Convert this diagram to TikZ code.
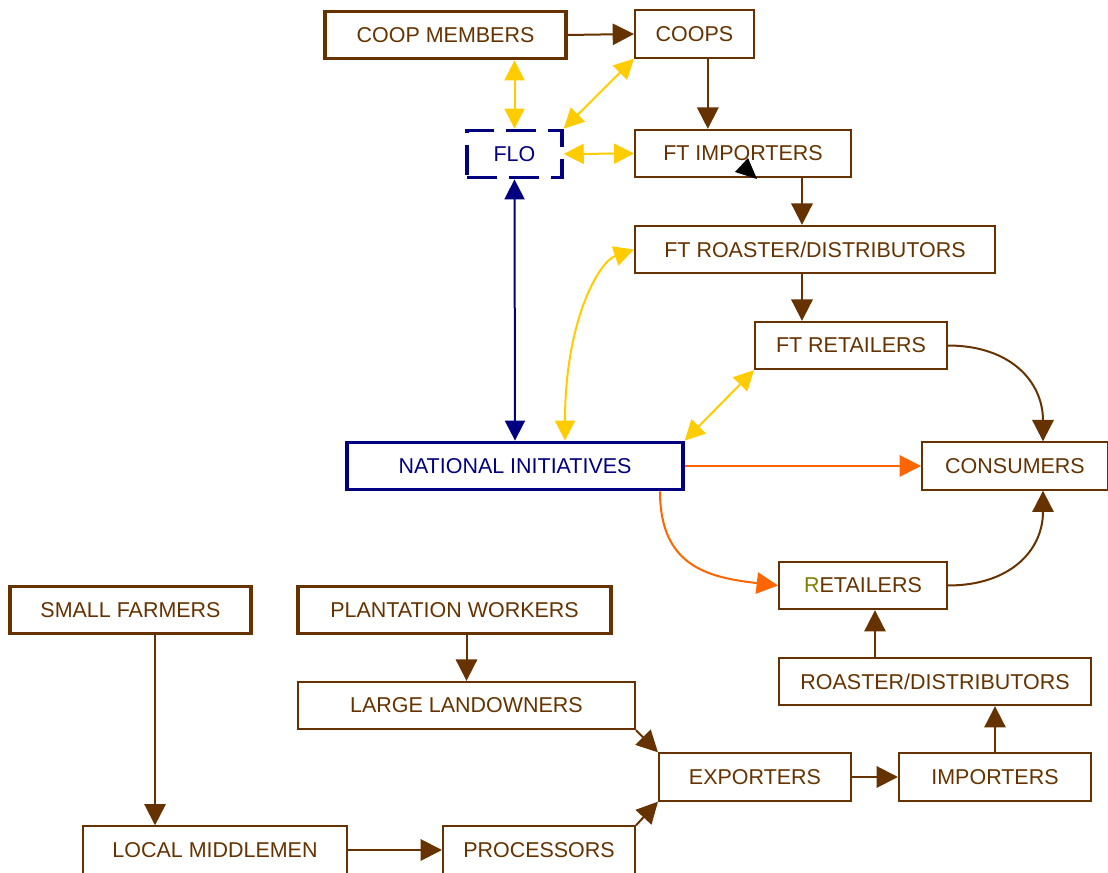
\documentclass[tikz,border=0pt]{standalone}
\usepackage{fontspec}
\setmainfont{Liberation Sans}
\usetikzlibrary{arrows.meta,calc}
\definecolor{brn}{HTML}{663300}
\definecolor{ylw}{HTML}{FFCC00}
\definecolor{nvy}{HTML}{000080}
\definecolor{org}{HTML}{FF6600}
\definecolor{olv}{HTML}{808000}
\tikzset{
  box/.style={draw=brn,text=brn,line width=1.5pt,rectangle,inner sep=0pt,
    font=\fontsize{16.1}{18}\selectfont,minimum height=35.5pt},
  thickbox/.style={box,line width=2.6pt},
  navybox/.style={box,draw=nvy,text=nvy,line width=2.6pt},
  tip/.style={-{Triangle[length=16pt,width=16pt]}},
  bitip/.style={{Triangle[length=15pt,width=15pt]}-{Triangle[length=15pt,width=15pt]}},
  flow/.style={tip,draw=brn,line width=1.5pt},
  fair/.style={bitip,draw=ylw,line width=1.5pt},
  nav/.style={bitip,draw=nvy,line width=1.5pt},
  ora/.style={tip,draw=org,line width=1.5pt},
}
\begin{document}
\begin{tikzpicture}[x=0.75pt,y=-0.75pt]
\useasboundingbox (0,0) rectangle (1108,873);
% nodes
\node[thickbox,minimum width=180.75pt] (coopm) at (445.5,35) {COOP MEMBERS};
\node[box,minimum width=89.25pt] (coops) at (694.5,34) {COOPS};
\node[navybox,dash pattern=on 22.5pt off 9pt,minimum width=71.25pt] (flo) at (514.5,154) {FLO};
\node[box,minimum width=162pt] (ftimp) at (743,153.5) {FT IMPORTERS};
\node[box,minimum width=270pt] (ftroast) at (815,249.5) {FT ROASTER/DISTRIBUTORS};
\node[box,minimum width=144pt] (ftret) at (851,345.5) {FT RETAILERS};
\node[navybox,minimum width=252pt] (ni) at (515,466) {NATIONAL INITIATIVES};
\node[box,minimum width=139.5pt] (cons) at (1015,466) {CONSUMERS};
\node[box,minimum width=126pt] (ret) at (863,585.5) {{\color{olv}R}ETAILERS};
\node[box,minimum width=234pt] (roast) at (935,681.5) {ROASTER/DISTRIBUTORS};
\node[thickbox,minimum width=180.75pt] (small) at (130.5,610) {SMALL FARMERS};
\node[thickbox,minimum width=234.75pt] (plant) at (454.5,610) {PLANTATION WORKERS};
\node[box,minimum width=252.75pt] (large) at (466.5,705.5) {LARGE LANDOWNERS};
\node[box,minimum width=144pt] (exp) at (755,777) {EXPORTERS};
\node[box,minimum width=144pt] (imp) at (995,777) {IMPORTERS};
\node[box,minimum width=198pt] (local) at (215,850) {LOCAL MIDDLEMEN};
\node[box,minimum width=144pt] (proc) at (539,850) {PROCESSORS};
% fair trade chain
\draw[flow] (coopm.east) -- (coops.west);
\draw[flow] ([xshift=10pt]coops.south) -- ([xshift=10pt]coops.south |- ftimp.north);
\draw[fair] (flo.north |- coopm.south) -- (flo.north);
\draw[fair] (coops.south west) -- (flo.north east);
\draw[fair] (flo.east) -- (ftimp.west);
\draw[nav] (flo.south) -- (ni.north);
\draw[flow] ([xshift=44.25pt]ftimp.south) -- ([xshift=44.25pt]ftimp.south |- ftroast.north);
\draw[flow] ([xshift=-9.75pt]ftroast.south) -- ([xshift=-9.75pt]ftroast.south |- ftret.north);
\draw[fair] (ftroast.west) .. controls +(-35,12) and +(0,-120) .. ([xshift=37.5pt]ni.north);
\draw[fair] (ftret.south west) -- (ni.north east);
\draw[flow] (ftret.east) .. controls +(62,0) and +(0,-60) .. ([xshift=21pt]cons.north);
\draw[ora] (ni.east) -- (cons.west);
\draw[ora] ([xshift=108.75pt]ni.south) .. controls +(0,75) and +(-70,-8) .. (ret.west);
\draw[flow] (ret.east) .. controls +(62,0) and +(0,60) .. ([xshift=21pt]cons.south);
% conventional chain
\draw[flow] ([xshift=9pt]ret.south |- roast.north) -- ([xshift=9pt]ret.south);
\draw[flow] (imp.north) -- (imp.north |- roast.south);
\draw[flow] (exp.east) -- (imp.west);
\draw[flow] (large.south east) -- (exp.north west);
\draw[flow] (proc.north east) -- (exp.south west);
\draw[flow] ([xshift=18.4pt]small.south) -- ([xshift=18.4pt]small.south |- local.north);
\draw[flow] ([xshift=9pt]plant.south) -- (large.north);
\draw[flow] (local.east) -- (proc.west);
% stray arrowhead
\fill[black] (735,172) -- (748,158) -- (757,179) -- cycle;
\end{tikzpicture}
\end{document}
